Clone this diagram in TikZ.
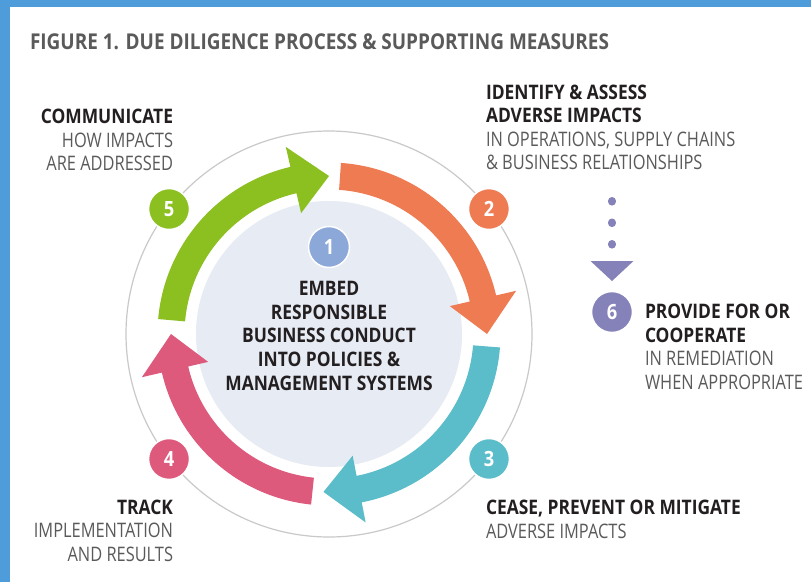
\documentclass[tikz,border=0pt]{standalone}
\usepackage{fontspec}
\setmainfont{Open Sans}[FakeStretch=0.82, BoldFeatures={FakeStretch=0.87}]
\usetikzlibrary{arrows.meta}

\definecolor{frameblue}{HTML}{4E9DDA}
\definecolor{inkdark}{HTML}{231F20}
\definecolor{inkgray}{HTML}{5A5A5A}
\definecolor{ringgray}{HTML}{C9C9C9}
\definecolor{innerfill}{HTML}{E7EBF4}
\definecolor{stepone}{HTML}{8CA8D9}
\definecolor{steptwo}{HTML}{EE7B52}
\definecolor{stepthree}{HTML}{5BBCCA}
\definecolor{stepfour}{HTML}{DE5A7C}
\definecolor{stepfive}{HTML}{8CC020}
\definecolor{stepsix}{HTML}{8581B9}

% colour, tail angle, tip angle
\newcommand{\cyclearrow}[3]{%
  \fill[#1] (#2:171.5pt) arc[start angle=#2, end angle=#3+13, radius=171.5pt]
    -- (#3+13:192pt) -- (#3:158pt) -- (#3+13:124pt)
    -- (#3+13:144.5pt) arc[start angle=#3+13, end angle=#2, radius=144.5pt] -- cycle;}

\begin{document}
\begin{tikzpicture}[x=1pt, y=1pt, inner sep=0pt, outer sep=0pt,
    blurb/.style={font=\fontsize{20}{23.5}\selectfont, text=inkgray},
    badge/.style={circle, minimum size=41pt, draw=white, line width=1.5pt,
                  text=white, font=\fontsize{21}{21}\selectfont\bfseries}]

    \useasboundingbox (0,0) rectangle (811,582);
    \fill[frameblue] (0,0) rectangle (811,582);
    \fill[white] (10,0) rectangle (811,575);

    \node[anchor=north west, text=inkgray, font=\fontsize{21.8}{21.8}\selectfont\bfseries]
        (title) at (30,548) {FIGURE 1. DUE DILIGENCE PROCESS \& SUPPORTING MEASURES};

    \coordinate (C) at (329,248);
    \fill[innerfill] (C) circle[radius=133pt];
    \draw[ringgray, line width=1.2pt] (C) circle[radius=203pt];

    \begin{scope}[shift={(C)}]
      \cyclearrow{steptwo}{86}{0}
      \cyclearrow{stepthree}{-4.5}{-92}
      \cyclearrow{stepfour}{-96}{-180}
      \cyclearrow{stepfive}{175}{90}

      \node[badge, fill=stepone]   (b1) at (90:87pt)   {1};
      \node[badge, fill=steptwo]   (b2) at (38:203pt)  {2};
      \node[badge, fill=stepthree] (b3) at (-38:203pt) {3};
      \node[badge, fill=stepfour]  (b4) at (218:203pt) {4};
      \node[badge, fill=stepfive]  (b5) at (142:203pt) {5};
    \end{scope}

    \node[badge, fill=stepsix] (b6) at (612,270) {6};
    \coordinate (d6) at (612,381);
    \draw[stepsix, line width=8pt, line cap=round, dash pattern=on 0.6pt off 20.9pt,
          shorten >=10.5pt, -{Triangle[width=43pt, length=20pt, line width=0pt]}] (d6) -- (b6);

    \node[blurb, anchor=north, align=center, text=inkdark, font=\fontsize{20}{23.8}\selectfont\bfseries]
        (embed) at (329,301) {EMBED\\RESPONSIBLE\\BUSINESS CONDUCT\\INTO POLICIES \&\\MANAGEMENT SYSTEMS};

    \node[blurb, anchor=north east, align=right] (t5) at (173,473)
        {\textcolor{inkdark}{\bfseries COMMUNICATE}\\HOW IMPACTS\\ARE ADDRESSED};
    \node[blurb, anchor=north west, align=left] (t2) at (486,497)
        {\textcolor{inkdark}{\bfseries IDENTIFY \& ASSESS}\\\textcolor{inkdark}{\bfseries ADVERSE IMPACTS}\\IN OPERATIONS, SUPPLY CHAINS\\\& BUSINESS RELATIONSHIPS};
    \node[blurb, anchor=north west, align=left] (t6) at (645,278)
        {\textcolor{inkdark}{\bfseries PROVIDE FOR OR}\\\textcolor{inkdark}{\bfseries COOPERATE}\\IN REMEDIATION\\WHEN APPROPRIATE};
    \node[blurb, anchor=north west, align=left] (t3) at (486,82)
        {\textcolor{inkdark}{\bfseries CEASE, PREVENT OR MITIGATE}\\ADVERSE IMPACTS};
    \node[blurb, anchor=north east, align=right] (t4) at (173,82)
        {\textcolor{inkdark}{\bfseries TRACK}\\IMPLEMENTATION\\AND RESULTS};
\end{tikzpicture}
\end{document}
